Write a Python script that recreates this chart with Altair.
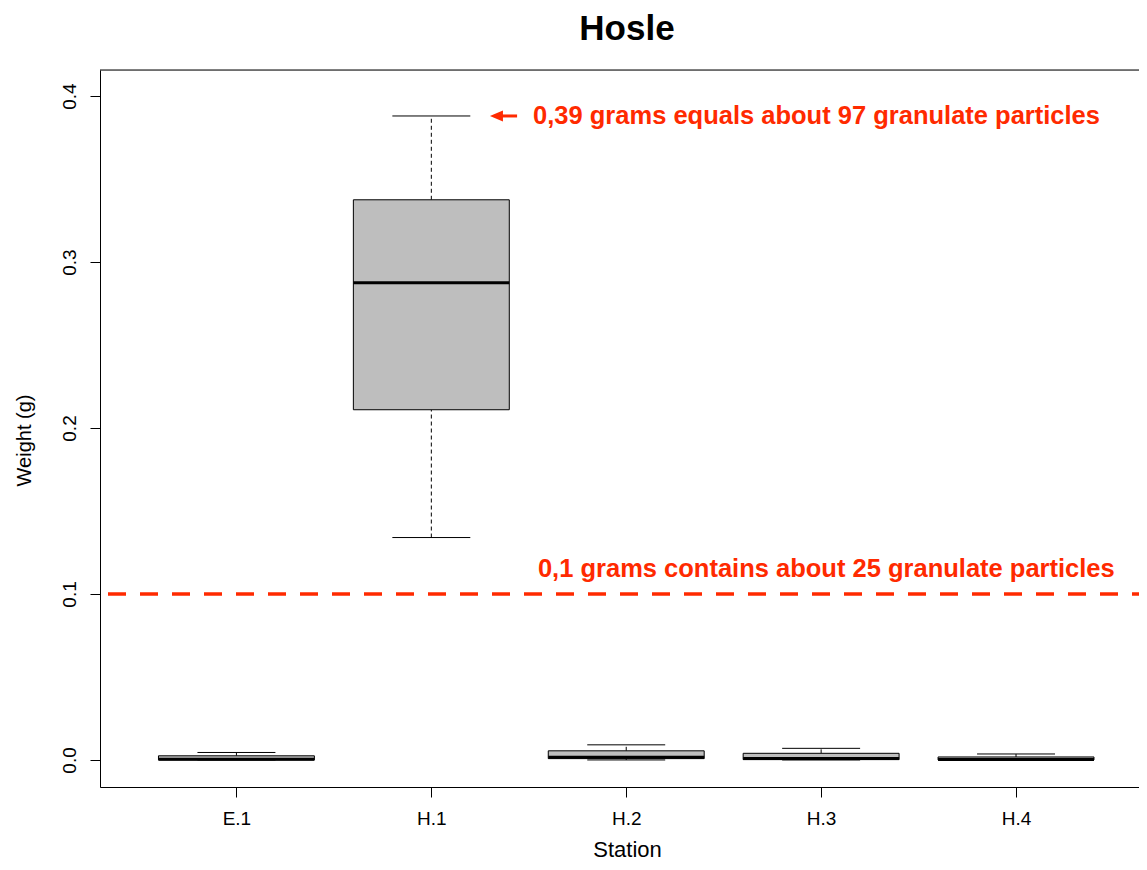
import altair as alt
import pandas as pd

# ---- data ----
stations = ["E.1", "H.1", "H.2", "H.3", "H.4"]
positions = [1, 2, 3, 4, 5]
w_min = [0.0, 0.134, 0.0, 0.0, 0.0]
w_q1 = [0.0, 0.211, 0.0008, 0.0002, 0.0]
w_med = [0.0004, 0.2875, 0.0017, 0.0008, 0.0003]
w_q3 = [0.0025, 0.3375, 0.0055, 0.0040, 0.0018]
w_max = [0.0045, 0.388, 0.0091, 0.0070, 0.0036]

threshold = [0.1]
note_text = ["0,39 grams equals about 97 granulate particles",
             "0,1 grams contains about 25 granulate particles"]
note_x = [2.522, 2.547]
note_y = [0.388, 0.115]
arrow_head_x = [2.334]
arrow_shaft_x = [2.352]
arrow_tail_x = [2.44]
arrow_y = [0.388]

y_ticks = [0.0, 0.1, 0.2, 0.3, 0.4]
title_text = ["Hosle"]

RED = "#ff2a00"
FONT = "Liberation Sans"
PAD_L, PAD_T, PAD_B = 92, 62, 75
W, H = 1039, 717
UNIT = 194.9  # pixels per station step

box = pd.DataFrame({"station": stations, "pos": positions, "lo": w_min, "q1": w_q1,
                    "med": w_med, "q3": w_q3, "hi": w_max})
notes = pd.DataFrame({"t": note_text, "x": note_x, "y": note_y})
arrow = pd.DataFrame({"xh": arrow_head_x, "xs": arrow_shaft_x, "xt": arrow_tail_x, "y": arrow_y})
thr = pd.DataFrame({"y": threshold})
ttl = pd.DataFrame({"t": title_text})

xs = alt.Scale(domain=[0.3, 0.3 + W / UNIT], nice=False, zero=False)
ys = alt.Scale(domain=[-0.0163, 0.4157], nice=False, zero=False)

label_list = "[" + ",".join("'%s'" % s for s in stations) + "]"
x_axis = alt.Axis(values=positions, labelExpr=label_list + "[datum.value-1]",
                  tickSize=10, tickColor="black", domainColor="black", domainWidth=1,
                  labelFontSize=19, labelFont=FONT, labelColor="black", labelPadding=12,
                  labelBaseline="top", labelAlign="center", grid=False,
                  title="Station", titleFont=FONT, titleFontSize=22, titleFontWeight="normal",
                  titleColor="black", titleX=527, titleY=62, titleBaseline="middle",
                  titleAlign="center")
y_axis = alt.Axis(values=y_ticks, format=".1f", tickSize=10, tickColor="black",
                  domainColor="black", domainWidth=1, labelFontSize=19, labelFont=FONT,
                  labelColor="black", labelAngle=270, labelAlign="center",
                  labelBaseline="alphabetic", labelPadding=15, grid=False,
                  title="Weight (g)", titleFont=FONT, titleFontSize=20,
                  titleFontWeight="normal", titleColor="black", titleAngle=270,
                  titleX=-76, titleY=370, titleBaseline="middle", titleAlign="center")


def X(f):
    return alt.X(f, type="quantitative", scale=xs, axis=x_axis)


def Y(f):
    return alt.Y(f, type="quantitative", scale=ys, axis=y_axis)


base = alt.Chart(box)

whisk_up = base.mark_rule(color="black", strokeWidth=1, strokeDash=[4, 3]).encode(
    x=X("pos"), y=Y("q3"), y2="hi")
whisk_lo = base.mark_rule(color="black", strokeWidth=1, strokeDash=[4, 3]).encode(
    x=X("pos"), y=Y("lo"), y2="q1")
caps = base.transform_fold(["lo", "hi"], as_=["k", "v"]).transform_calculate(
    cl="datum.pos - 0.2", cr="datum.pos + 0.2").mark_rule(
    color="black", strokeWidth=1).encode(x=X("cl:Q"), x2="cr:Q", y=Y("v:Q"))
rects = base.transform_calculate(bl="datum.pos - 0.4", br="datum.pos + 0.4").mark_rect(
    fill="#BEBEBE", stroke="black", strokeWidth=1).encode(
    x=X("bl:Q"), x2="br:Q", y=Y("q1"), y2="q3")
meds = base.transform_calculate(bl="datum.pos - 0.4", br="datum.pos + 0.4").mark_rule(
    color="black", strokeWidth=3).encode(x=X("bl:Q"), x2="br:Q", y=Y("med"))

red_line = alt.Chart(thr).mark_rule(color=RED, strokeWidth=3.5, strokeDash=[18, 14],
                                    strokeDashOffset=24).encode(
    y=Y("y"), x=alt.value(0), x2=alt.value(W))

texts = alt.Chart(notes).mark_text(align="left", baseline="middle", font=FONT,
                                   fontSize=25.5, fontWeight="bold", color=RED).encode(
    x=X("x"), y=Y("y"), text="t:N")

shaft = alt.Chart(arrow).mark_rule(color=RED, strokeWidth=3).encode(
    x=X("xs"), x2="xt", y=Y("y"))
head = alt.Chart(arrow).mark_point(shape="M-1,0L1,-0.85L1,0.85Z", filled=True, size=169,
                                   color=RED, opacity=1, strokeWidth=0).encode(
    x=X("xh"), y=Y("y"))

top_border = alt.Chart(thr).mark_rule(color="black", strokeWidth=1).encode(
    x=alt.value(0), x2=alt.value(W), y=alt.value(0))

title = alt.Chart(ttl).mark_text(align="center", baseline="alphabetic", font=FONT,
                                 fontSize=35, fontWeight="bold", color="black").encode(
    text="t:N", x=alt.value(527), y=alt.value(-30))

chart = alt.layer(whisk_up, whisk_lo, caps, rects, meds, red_line, texts, shaft, head,
                  top_border, title).properties(
    width=W, height=H,
    autosize=alt.AutoSizeParams(type="none"),
    padding={"left": PAD_L, "top": PAD_T, "right": 0, "bottom": PAD_B},
).configure_view(stroke=None).configure(background="white")

chart.save("out.html", embed_options={"renderer": "svg", "actions": False})
